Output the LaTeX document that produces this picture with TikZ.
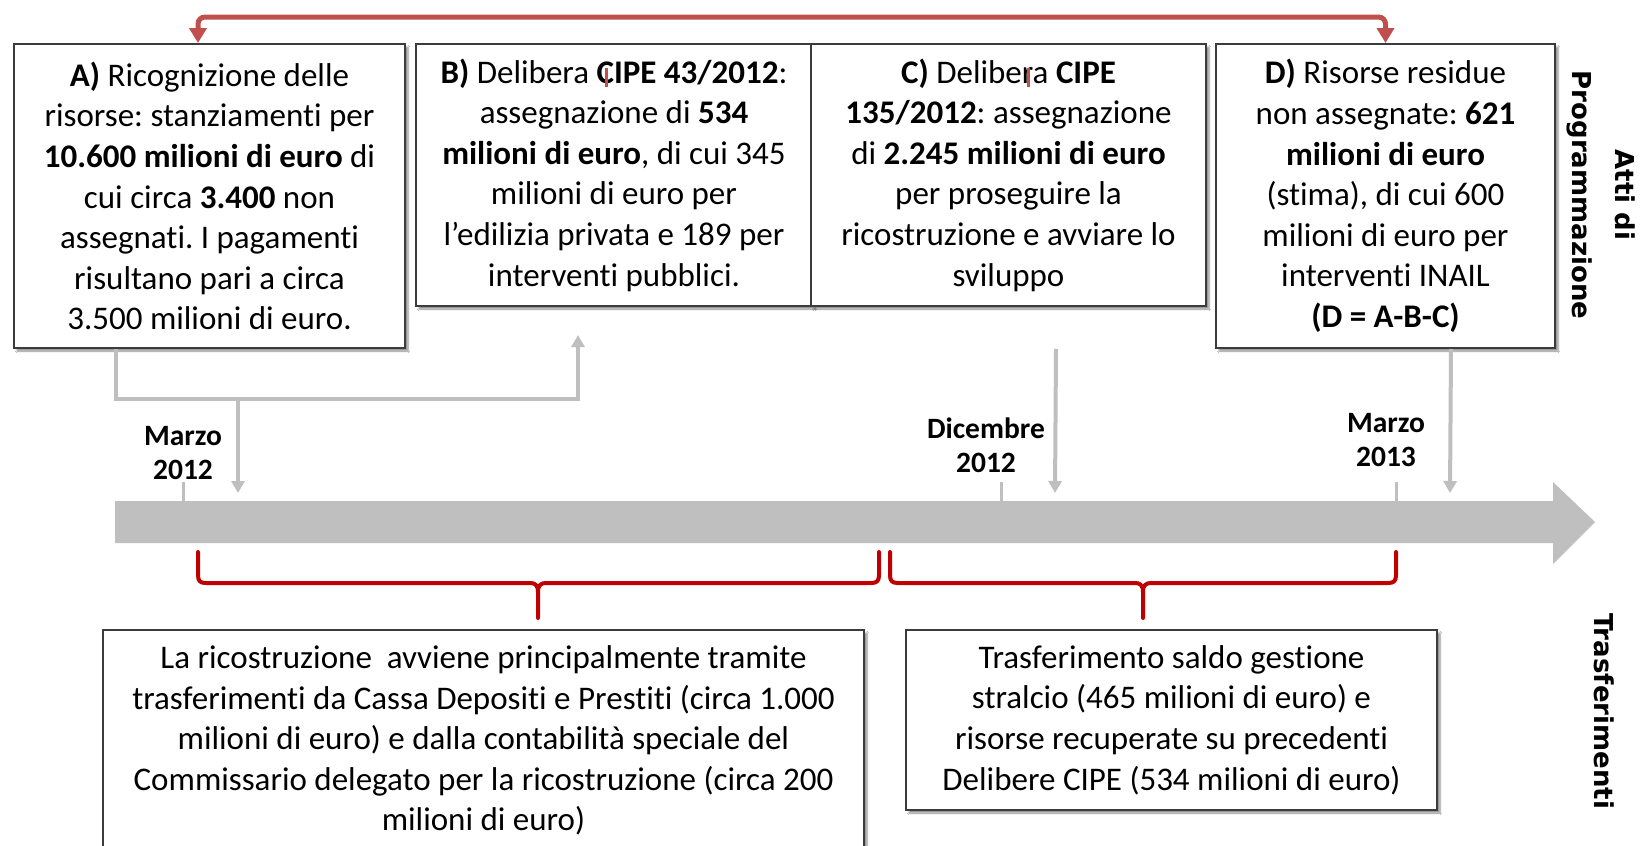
\documentclass[tikz,border=0pt]{standalone}
\usepackage{fontspec}
\setmainfont{Carlito}[Ligatures=NoCommon]
\newfontfamily\sidefont{DejaVu Sans}
\usetikzlibrary{arrows.meta,shadows.blur}
\frenchspacing

\definecolor{redarr}{RGB}{192,80,77}
\definecolor{redbrace}{RGB}{192,0,0}
\definecolor{linegray}{RGB}{191,191,191}
\definecolor{boxline}{RGB}{60,60,60}

\tikzset{
  box/.style={draw=boxline, line width=2pt, fill=white, anchor=north west, align=center,
    inner sep=0pt, font=\fontsize{33}{40.6}\selectfont,
    blur shadow={shadow xshift=3pt, shadow yshift=-3pt, shadow blur steps=6, shadow opacity=45}},
  gline/.style={draw=linegray, line width=4pt, -{Triangle[width=13pt,length=12pt]}},
  redline/.style={draw=redarr, line width=5pt, rounded corners=7pt},
  brace/.style={draw=redbrace, line width=4pt, line cap=round, line join=round},
  datelbl/.style={align=center, font=\bfseries\fontsize{29.5}{34}\selectfont},
  sidelbl/.style={align=center, rotate=-90, font=\sidefont\bfseries\fontsize{26}{43}\selectfont}
}

\begin{document}
\begin{tikzpicture}[x=1pt,y=-1pt]
    \clip (0,0) rectangle (1644,846);
    \fill[white] (0,0) rectangle (1644,846);

    \node[box, minimum width=391pt, minimum height=304pt] (boxA) at (13,43)
      {\textbf{A)} Ricognizione delle\\ risorse: stanziamenti per\\ \textbf{10.600 milioni di euro} di\\
       cui circa \textbf{3.400} non\\ assegnati. I pagamenti\\ risultano pari a circa\\ 3.500 milioni di euro.};
    \node[box, minimum width=396pt, minimum height=262pt] (boxB) at (415,43)
      {\textbf{B)} Delibera \textbf{CIPE 43/2012}:\\ assegnazione di \textbf{534}\\ \textbf{milioni di euro}, di cui 345\\
       milioni di euro per\\ l’edilizia privata e 189 per\\ interventi pubblici.};
    \node[box, minimum width=395pt, minimum height=262pt] (boxC) at (810,43)
      {\textbf{C)} Delibera \textbf{CIPE}\\ \textbf{135/2012}: assegnazione\\ di \textbf{2.245 milioni di euro}\\
       per proseguire la\\ ricostruzione e avviare lo\\ sviluppo};
    \node[box, minimum width=339pt, minimum height=304pt] (boxD) at (1215,43)
      {\textbf{D)} Risorse residue\\ non assegnate: \textbf{621}\\ \textbf{milioni di euro}\\
       (stima), di cui 600\\ milioni di euro per\\ interventi INAIL\\ \textbf{(D = A-B-C)}};
    \draw[draw=redarr, line width=3pt] (606,68) -- (606,87);
    \draw[draw=redarr, line width=3pt] (1028,68) -- (1028,87);

    \draw[redline, {Triangle[width=17pt,length=15pt]}-{Triangle[width=17pt,length=15pt]}]
      ([xshift=-11.5pt]boxA.north) -- ++(0,-26) -| (boxD.north);

    \node[sidelbl] (atti) at (1601,195) {Atti di\\Programmazione};

    \fill[linegray] (115,501) -- (1553,501) -- (1553,482) -- (1595,522) -- (1553,564) -- (1553,543) -- (115,543) -- cycle;
    \foreach \x in {183,1001,1396} \draw[linegray, line width=3pt] (\x,482) -- (\x,501);
    \node[datelbl] (marzoA) at (183,453) {Marzo\\2012};
    \node[datelbl] (dicembre) at (986,445) {Dicembre\\2012};
    \node[datelbl] (marzoB) at (1386,440) {Marzo\\2013};

    \coordinate (split) at (238,399);
    \coordinate (toB) at ([xshift=-36pt,yshift=-28pt]boxB.south);
    \coordinate (tA) at (238,493);
    \coordinate (tC) at (1055,493);
    \coordinate (tD) at (1450,493);
    \draw[gline] ([xshift=103pt]boxA.south west) |- (split) -| (toB);
    \draw[gline] (split) -- (tA);
    \draw[gline] ([xshift=47.5pt,yshift=-42pt]boxC.south) -- (tC);
    \draw[gline] ([xshift=65.5pt]boxD.south) -- (tD);

    \foreach \xs/\xm/\xe in {198/538/879, 890/1143/1396}
      \draw[brace] (\xs,552) -- (\xs,575) .. controls (\xs,581) and ({\xs+2},583) .. ({\xs+8},583)
        -- ({\xm-8},583) .. controls ({\xm-3},583) and (\xm,585) .. (\xm,592) -- (\xm,618)
        (\xm,592) .. controls (\xm,585) and ({\xm+3},583) .. ({\xm+8},583)
        -- ({\xe-8},583) .. controls ({\xe-2},583) and (\xe,581) .. (\xe,575) -- (\xe,552);

    \node[box, minimum width=761pt, minimum height=221pt] (boxE) at (102,629)
      {La ricostruzione\ \ avviene principalmente tramite\\ trasferimenti da Cassa Depositi e Prestiti (circa 1.000\\
       milioni di euro) e dalla contabilità speciale del\\ Commissario delegato per la ricostruzione (circa 200\\
       milioni di euro)};
    \node[box, minimum width=531pt, minimum height=180pt] (boxF) at (905,629)
      {Trasferimento saldo gestione\\ stralcio (465 milioni di euro) e\\ risorse recuperate su precedenti\\
       Delibere CIPE (534 milioni di euro)};

    \node[sidelbl] (trasf) at (1604,711) {Trasferimenti};
\end{tikzpicture}
\end{document}
